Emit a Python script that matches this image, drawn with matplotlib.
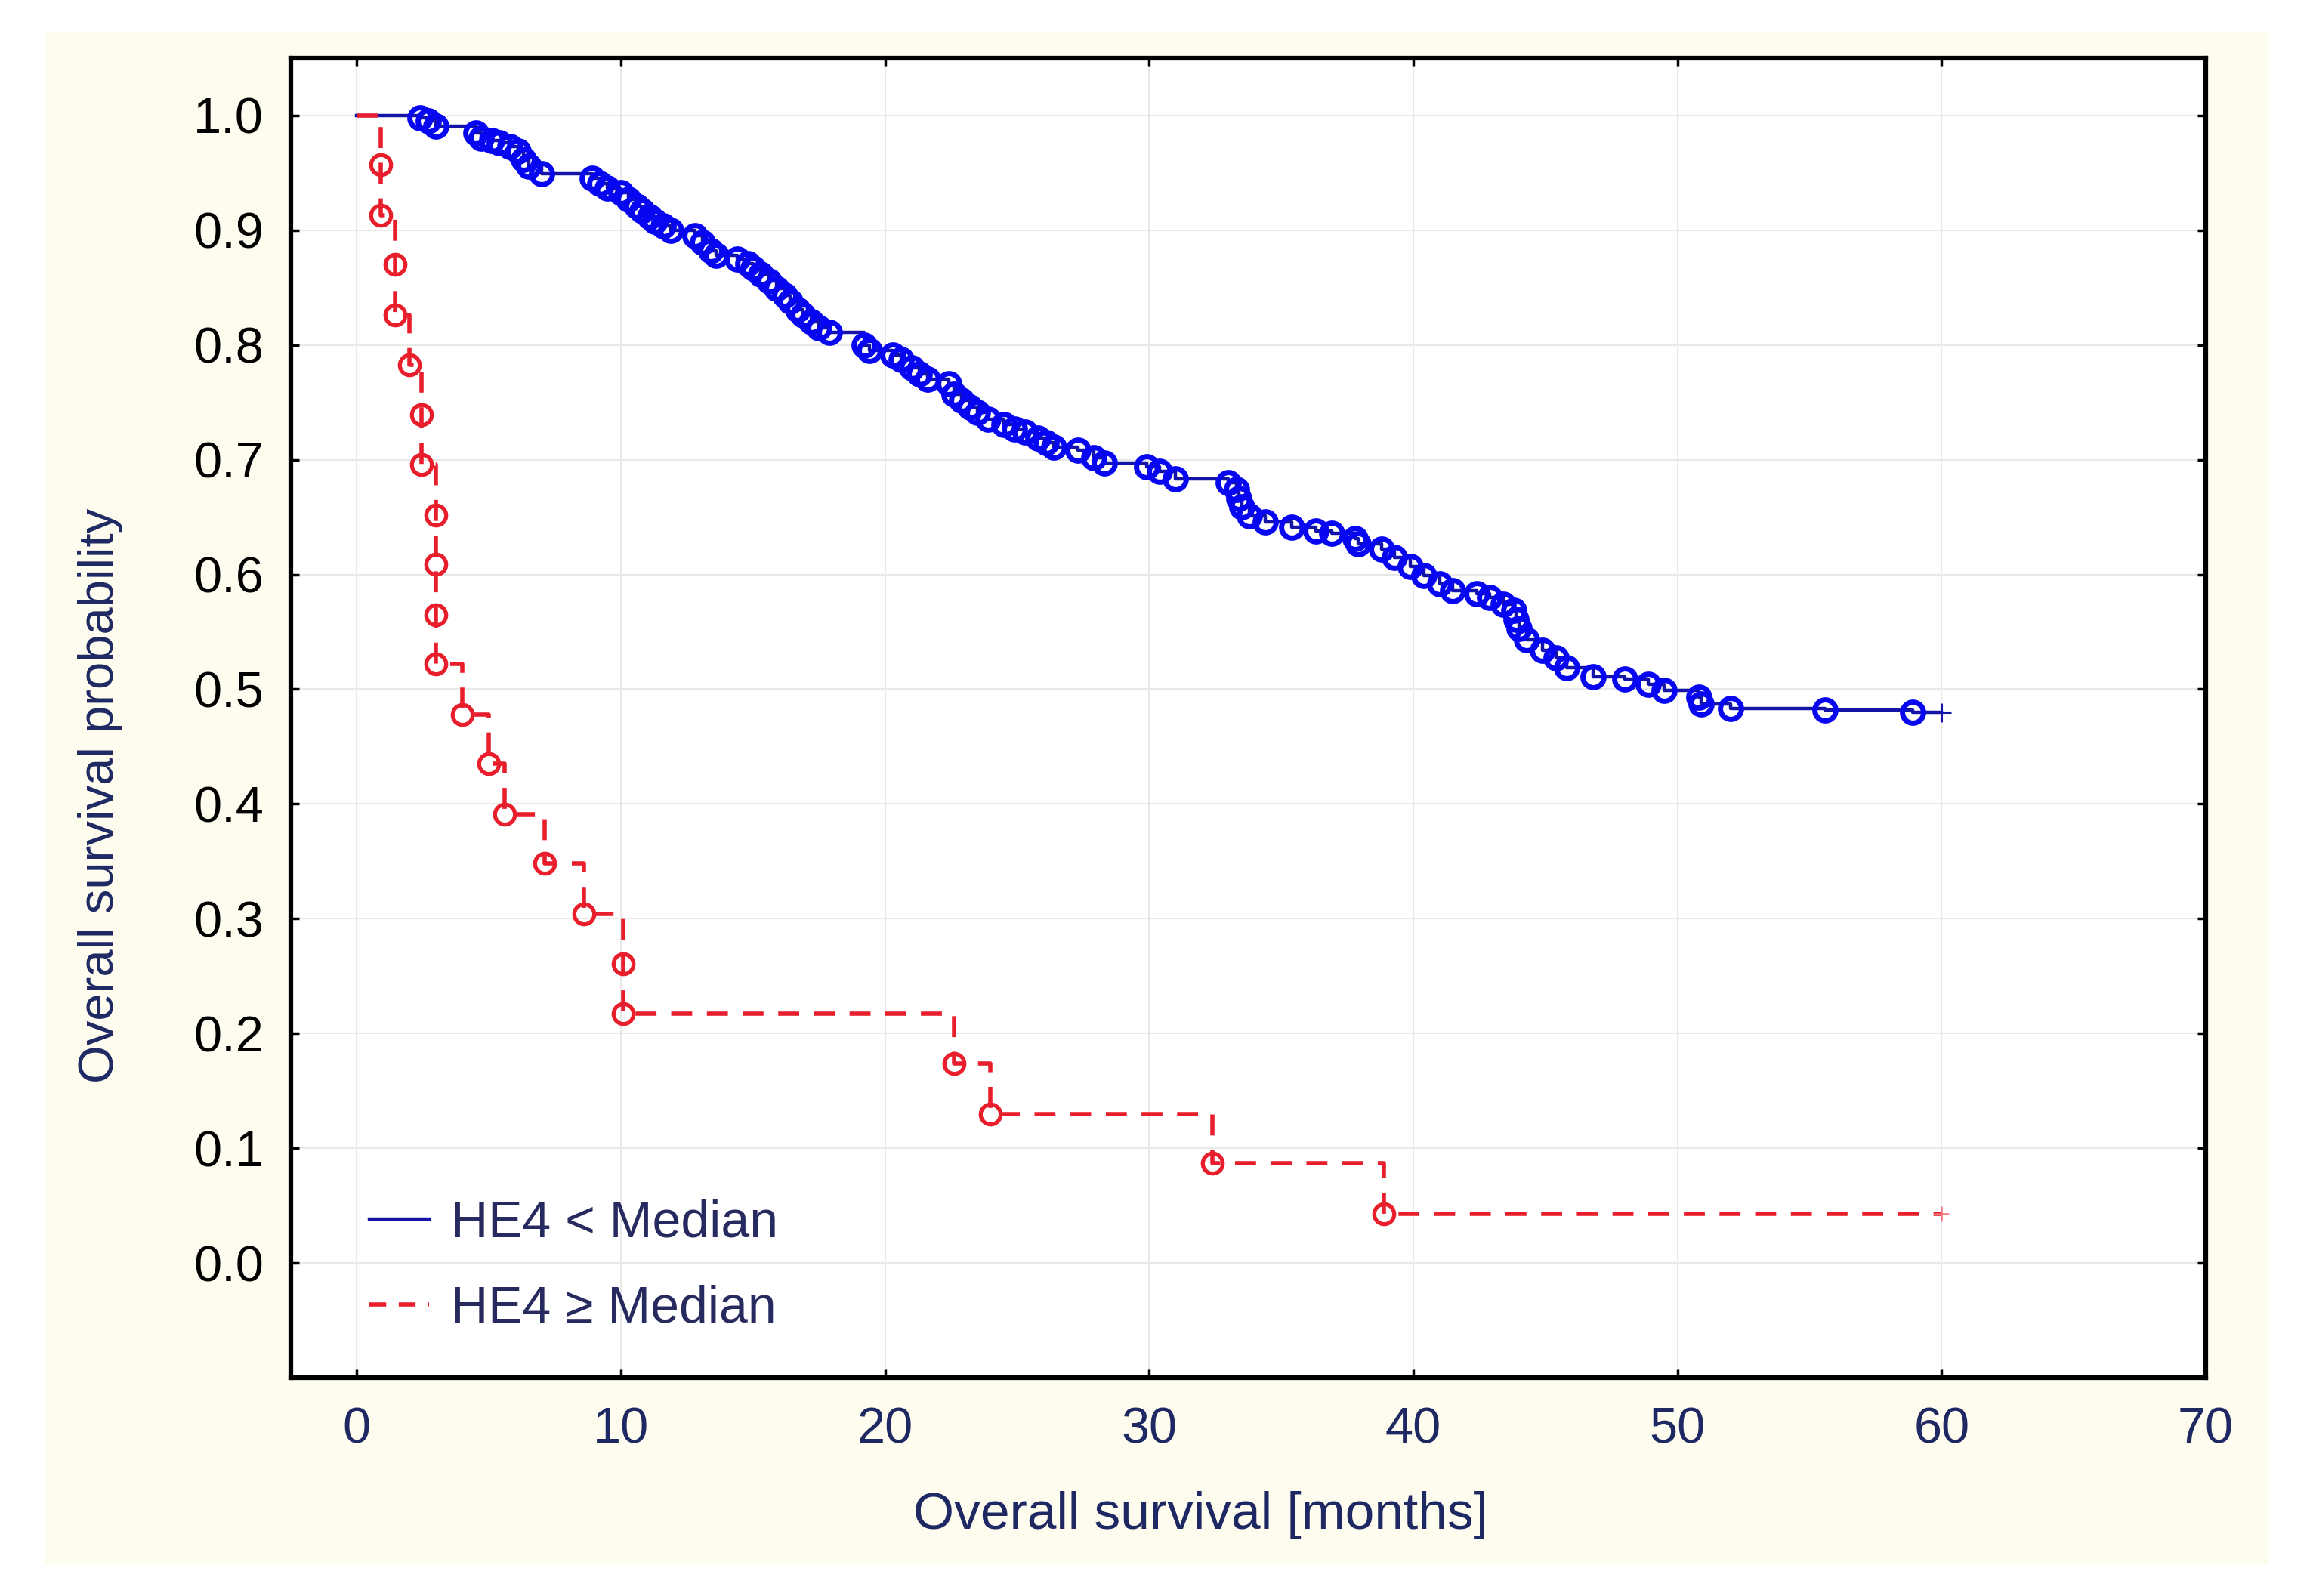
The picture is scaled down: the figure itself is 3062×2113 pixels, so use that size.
import matplotlib.pyplot as plt
from matplotlib.patches import Rectangle
from matplotlib.lines import Line2D

# Kaplan-Meier data: event times [months] and survival after each event
low_times = [2.4, 2.7, 3.0, 4.5, 4.7, 5.1, 5.4, 5.8, 6.1, 6.3, 6.5, 7.0,
             8.9, 9.2, 9.5, 10.0, 10.3, 10.6, 10.8, 11.1, 11.3, 11.6, 11.9,
             12.8, 13.1, 13.4, 13.6, 14.4, 14.8, 15.0, 15.3, 15.6, 15.9, 16.2,
             16.4, 16.7, 16.9, 17.2, 17.5, 17.9, 19.2, 19.4, 20.3, 20.6, 21.0,
             21.3, 21.6, 22.4, 22.6, 22.9, 23.2, 23.5, 23.9, 24.5, 24.9, 25.3,
             25.8, 26.1, 26.4, 27.3, 27.9, 28.3, 29.9, 30.4, 31.0, 33.0, 33.3,
             33.4, 33.5, 33.8, 34.4, 35.4, 36.3, 36.9, 37.8, 37.9, 38.8, 39.3,
             39.9, 40.4, 41.0, 41.5, 42.4, 42.9, 43.4, 43.8, 43.9, 44.0, 44.3,
             44.9, 45.4, 45.8, 46.8, 48.0, 48.9, 49.5, 50.8, 50.9, 52.0, 55.6,
             58.9]
low_surv = [0.998, 0.995, 0.991, 0.985, 0.980, 0.978, 0.976, 0.973, 0.969, 0.962, 0.956, 0.949,
            0.945, 0.941, 0.937, 0.933, 0.927, 0.921, 0.917, 0.912, 0.908, 0.904, 0.900,
            0.895, 0.889, 0.882, 0.878, 0.875, 0.871, 0.867, 0.862, 0.856, 0.849, 0.843,
            0.838, 0.831, 0.826, 0.820, 0.815, 0.811, 0.800, 0.795, 0.791, 0.787, 0.780,
            0.775, 0.770, 0.766, 0.757, 0.752, 0.746, 0.741, 0.735, 0.731, 0.727, 0.724,
            0.719, 0.715, 0.711, 0.708, 0.702, 0.697, 0.694, 0.690, 0.683, 0.680, 0.674,
            0.666, 0.659, 0.651, 0.646, 0.641, 0.638, 0.636, 0.631, 0.627, 0.622, 0.615,
            0.607, 0.599, 0.592, 0.586, 0.583, 0.580, 0.574, 0.569, 0.561, 0.553, 0.543,
            0.534, 0.527, 0.519, 0.511, 0.509, 0.504, 0.499, 0.493, 0.487, 0.483, 0.482,
            0.480]
low_censor = 60.0

high_times = [0.9, 0.9, 1.45, 1.45, 2.0, 2.45, 2.45, 3.0, 3.0, 3.0, 3.0, 4.0,
              5.0, 5.6, 7.1, 8.6, 10.1, 10.1, 22.6, 24.0, 32.4, 38.9]
high_surv = [0.957, 0.913, 0.870, 0.826, 0.783, 0.739, 0.696, 0.652, 0.609, 0.565, 0.522, 0.478,
             0.435, 0.391, 0.348, 0.304, 0.261, 0.217, 0.174, 0.130, 0.087, 0.043]
high_censor = 60.0

labels = ["HE4 < Median", "HE4 \u2265 Median"]
xticks = [0, 10, 20, 30, 40, 50, 60, 70]
yticks = [0.0, 0.1, 0.2, 0.3, 0.4, 0.5, 0.6, 0.7, 0.8, 0.9, 1.0]

plt.rcParams['font.family'] = ['Liberation Sans', 'DejaVu Sans']

blue = '#0606F0'
blue_line = '#1414A8'
red = '#E81E2C'
navy = '#1E2862'

fig = plt.figure(figsize=(30.62, 21.13), dpi=100, facecolor='white')
bg = Rectangle((0.0196, 0.0199), 0.9608, 0.9598, transform=fig.transFigure,
               facecolor='#FEFBEF', edgecolor='none')
bg.set_zorder(-10)
fig.add_artist(bg)
ax = fig.add_axes([0.1257, 0.1368, 0.8279, 0.8268])
ax.set_zorder(1)
ax.set_facecolor('white')

# HE4 < Median
ax.step([0] + low_times + [low_censor], [1.0] + low_surv + [low_surv[-1]], where='post',
        color=blue_line, lw=3.2, zorder=3)
ax.plot(low_times, low_surv, 'o', ms=20, mfc='none', mec=blue, mew=5, zorder=4)
ax.plot([low_censor], [low_surv[-1]], '+', ms=18, color=blue_line, mew=2.2, zorder=4)

# HE4 >= Median
ax.step([0] + high_times + [high_censor], [1.0] + high_surv + [high_surv[-1]], where='post',
        color=red, lw=4, dashes=(5, 3.5), zorder=5)
ax.plot(high_times, high_surv, 'o', ms=19, mfc='none', mec=red, mew=3.8, zorder=6)
ax.plot([high_censor], [high_surv[-1]], '+', ms=15, color='#F07878', mew=1.8, zorder=6)

ax.set_xlim(-2.5, 70)
ax.set_ylim(-0.1, 1.05)
ax.set_xticks(xticks)
ax.set_yticks(yticks)
ax.set_yticklabels(['%.1f' % v for v in yticks])
ax.grid(True, color='#E8E8E8', lw=1.5)
ax.set_axisbelow(True)

for s in ax.spines.values():
    s.set_linewidth(4.5)
    s.set_color('black')
ax.tick_params(direction='in', length=8, width=2.5, top=True, right=True)
ax.tick_params(axis='y', labelsize=48, pad=26, labelcolor='black')
ax.tick_params(axis='x', labelsize=48, pad=28, labelcolor=navy)

ax.set_xlabel("Overall survival [months]", fontsize=50, color=navy, va='center')
ax.xaxis.set_label_coords(0.475, -0.104)
ax.set_ylabel("Overall survival probability", fontsize=47, color=navy, va='center')
ax.yaxis.set_label_coords(-0.0994, 0.441)

handles = [Line2D([], [], color=blue_line, lw=3.2),
           Line2D([], [], color=red, lw=4, dashes=(4, 3))]
ax.legend(handles, labels, loc='lower left', bbox_to_anchor=(0.041, 0.034), frameon=False,
          fontsize=49, labelcolor='#262A5E', borderpad=0, borderaxespad=0,
          handlelength=1.17, handletextpad=0.42, labelspacing=0.72)

fig.savefig("out.png", dpi=100)
